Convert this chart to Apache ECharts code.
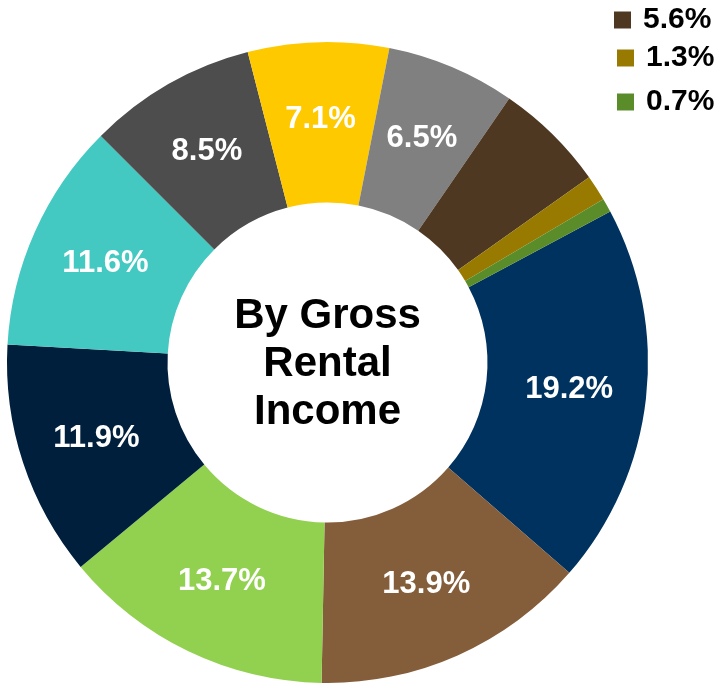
<!DOCTYPE html>
<html>
<head>
<meta charset="utf-8">
<style>
html,body{margin:0;padding:0;background:#fff;}
#chart{width:721px;height:685px;}
</style>
<script src="https://cdn.jsdelivr.net/npm/echarts@6/dist/echarts.min.js"></script>
</head>
<body>
<div id="chart"></div>
<script>
// Slices in clockwise order, starting just below the 0.7% sliver
const categories = ['19.2%', '13.9%', '13.7%', '11.9%', '11.6%', '8.5%', '7.1%', '6.5%', '5.6%', '1.3%', '0.7%'];
const values = [19.2, 13.9, 13.7, 11.9, 11.6, 8.5, 7.1, 6.5, 5.6, 1.3, 0.7];
const colors = ['#00325F', '#845D3A', '#92D050', '#001F3D', '#43C9C1', '#4D4D4D', '#FFC900', '#808080', '#4E3822', '#997A00', '#5B8C2A'];
const legendItems = ['5.6%', '1.3%', '0.7%'];
const centerTitle = 'By Gross\nRental\nIncome';
const insideLabelMin = 6; // slices below this value are shown in the legend instead

const FONT = '"Liberation Sans", Arial, sans-serif';
const chart = echarts.init(document.getElementById('chart'), null, {renderer: 'canvas'});

const legendPos = [
  {left: 614, top: 5},
  {left: 617, top: 43},
  {left: 617, top: 87}
];

const option = {
  animation: false,
  color: colors,
  legend: legendItems.map((name, i) => ({
    data: [name],
    left: legendPos[i].left,
    top: legendPos[i].top,
    padding: 0,
    icon: 'rect',
    itemWidth: 17,
    itemHeight: 17,
    selectedMode: false,
    textStyle: {
      fontFamily: FONT,
      fontWeight: 'bold',
      fontSize: 30,
      color: '#000',
      lineHeight: 20,
      padding: [0, 0, 0, 7]
    }
  })),
  graphic: [{
    type: 'text',
    style: {
      text: centerTitle,
      x: 327.5,
      y: 364,
      textAlign: 'center',
      textVerticalAlign: 'middle',
      fontFamily: FONT,
      fontWeight: 'bold',
      fontSize: 42,
      lineHeight: 48,
      fill: '#000'
    }
  }],
  series: [{
    type: 'pie',
    center: [327.5, 362.5],
    radius: [160, 320.5],
    startAngle: 28.1,
    clockwise: true,
    avoidLabelOverlap: false,
    emphasis: {disabled: true},
    itemStyle: {borderWidth: 0},
    label: {
      show: true,
      position: 'inside',
      color: '#fff',
      fontFamily: FONT,
      fontWeight: 'bold',
      fontSize: 31,
      formatter: p => p.value >= insideLabelMin ? p.value.toFixed(1) + '%' : ''
    },
    labelLine: {show: false},
    data: categories.map((c, i) => ({name: c, value: values[i]}))
  }]
};
chart.setOption(option);
</script>
</body>
</html>
